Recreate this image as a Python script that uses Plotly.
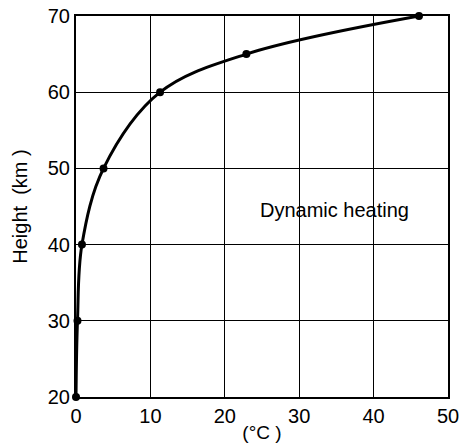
import plotly.graph_objects as go

temperature = [0.0, 0.2, 0.8, 3.7, 11.3, 22.9, 46.1]
height = [20, 30, 40, 50, 60, 65, 70]
x_ticks = [0, 10, 20, 30, 40, 50]
y_ticks = [20, 30, 40, 50, 60, 70]
label_text = "Dynamic heating"

FONT = "Liberation Sans"

fig = go.Figure()
fig.add_trace(go.Scatter(
    x=temperature, y=height, mode="lines+markers",
    line=dict(color="black", width=3, shape="spline", smoothing=1.0),
    marker=dict(color="black", size=8),
    showlegend=False, cliponaxis=False,
))
fig.add_annotation(x=34.8, y=44.5, text=label_text, showarrow=False,
                   font=dict(size=20, color="black", family=FONT))

axis_common = dict(showgrid=True, gridcolor="black", gridwidth=1,
                   showline=True, linecolor="black", linewidth=2, mirror=True,
                   zeroline=False, ticks="", automargin=False,
                   ticklabeloverflow="allow", ticklabelstandoff=0,
                   tickfont=dict(size=20, color="black", family=FONT))
fig.update_xaxes(range=[0, 50], tickvals=x_ticks, **axis_common,
                 title=dict(text="(°C )", font=dict(size=19, color="black", family=FONT), standoff=0))
fig.update_yaxes(range=[20, 70], tickvals=y_ticks, **axis_common,
                 title=dict(text="Height  (km )", font=dict(size=20, color="black", family=FONT), standoff=15))
fig.update_layout(width=474, height=446, margin=dict(l=76, r=26, t=16, b=49, autoexpand=False),
                  plot_bgcolor="white", paper_bgcolor="white")
fig.write_html("out.html", config={"displayModeBar": False},
               post_script="document.body.style.margin='0';document.body.style.overflow='hidden';")
